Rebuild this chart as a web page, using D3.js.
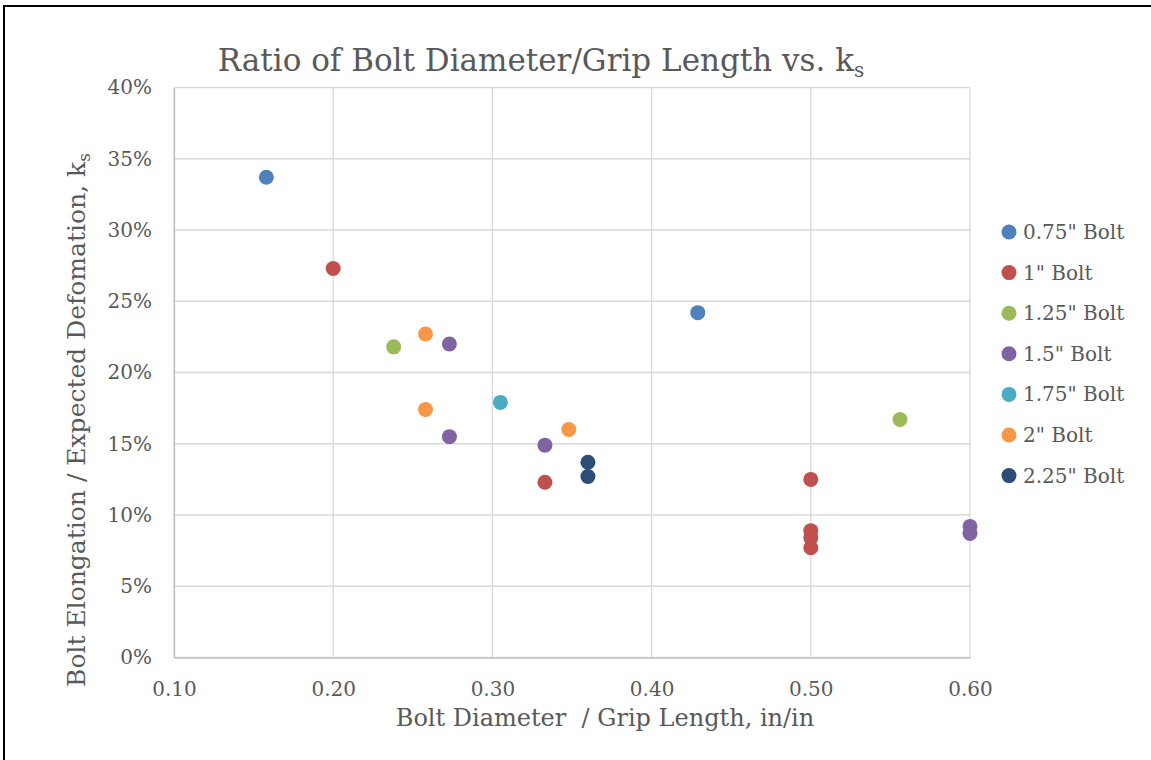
<!DOCTYPE html>
<html>
<head>
<meta charset="utf-8">
<script src="https://cdn.jsdelivr.net/npm/d3@7/dist/d3.min.js"></script>
<style>
  html, body { margin: 0; padding: 0; background: #fff; }
  svg { display: block; }
  text { font-family: "DejaVu Serif", "Liberation Serif", serif; fill: #595959; white-space: pre; }
</style>
</head>
<body>
<svg id="chart" width="1151" height="760"></svg>
<script>
// Bolt series: diameter/grip ratio (x) and measured elongation ratio k_s (y)
const seriesNames = ['0.75" Bolt', '1" Bolt', '1.25" Bolt', '1.5" Bolt', '1.75" Bolt', '2" Bolt', '2.25" Bolt'];
const seriesColors = ["#4f81bd", "#c0504d", "#9bbb59", "#8064a2", "#4bacc6", "#f79646", "#2c4d75"];

const bolt075X = [0.158, 0.429];
const bolt075Y = [0.337, 0.242];
const bolt100X = [0.200, 0.333, 0.500, 0.500, 0.500, 0.500];
const bolt100Y = [0.273, 0.123, 0.125, 0.089, 0.084, 0.077];
const bolt125X = [0.238, 0.556];
const bolt125Y = [0.218, 0.167];
const bolt150X = [0.273, 0.273, 0.333, 0.600, 0.600];
const bolt150Y = [0.220, 0.155, 0.149, 0.092, 0.087];
const bolt175X = [0.305];
const bolt175Y = [0.179];
const bolt200X = [0.258, 0.258, 0.348];
const bolt200Y = [0.227, 0.174, 0.160];
const bolt225X = [0.360, 0.360];
const bolt225Y = [0.137, 0.127];

const xTicks = [0.10, 0.20, 0.30, 0.40, 0.50, 0.60];
const yTicks = [0, 0.05, 0.10, 0.15, 0.20, 0.25, 0.30, 0.35, 0.40];

const seriesX = [bolt075X, bolt100X, bolt125X, bolt150X, bolt175X, bolt200X, bolt225X];
const seriesY = [bolt075Y, bolt100Y, bolt125Y, bolt150Y, bolt175Y, bolt200Y, bolt225Y];

const svg = d3.select("#chart");

// outer chart frame
svg.append("rect")
  .attr("x", 4).attr("y", 6)
  .attr("width", 1200).attr("height", 800)
  .attr("fill", "none").attr("stroke", "#000").attr("stroke-width", 2);

const plot = { left: 174, right: 970, top: 87.5, bottom: 657.5 };

const x = d3.scaleLinear().domain([0.10, 0.60]).range([plot.left, plot.right]);
const y = d3.scaleLinear().domain([0, 0.40]).range([plot.bottom, plot.top]);

// gridlines
const grid = svg.append("g");
grid.selectAll("line.v").data(xTicks).join("line")
  .attr("x1", d => x(d)).attr("x2", d => x(d))
  .attr("y1", plot.top).attr("y2", plot.bottom)
  .attr("stroke", "#d9d9d9").attr("stroke-width", 1.3);
grid.selectAll("line.h").data(yTicks).join("line")
  .attr("x1", plot.left).attr("x2", plot.right)
  .attr("y1", d => y(d)).attr("y2", d => y(d))
  .attr("stroke", "#d9d9d9").attr("stroke-width", 1.3);

// axes
const xAxis = svg.append("g")
  .attr("transform", `translate(0,${plot.bottom})`)
  .call(d3.axisBottom(x).tickValues(xTicks).tickFormat(d3.format(".2f")).tickSize(0).tickPadding(24));
xAxis.select(".domain").attr("stroke", "#bfbfbf").attr("stroke-width", 1.3);
xAxis.selectAll("text").style("font-size", "20px").attr("fill", "#595959");

const yAxis = svg.append("g")
  .attr("transform", `translate(${plot.left},0)`)
  .call(d3.axisLeft(y).tickValues(yTicks).tickFormat(d3.format(".0%")).tickSize(0).tickPadding(22));
yAxis.select(".domain").attr("stroke", "#bfbfbf").attr("stroke-width", 1.3);
yAxis.selectAll("text").style("font-size", "20px").attr("fill", "#595959");

// points
const points = [];
seriesX.forEach((xs, i) => xs.forEach((xv, j) => points.push({ s: i, x: xv, y: seriesY[i][j] })));
svg.append("g").selectAll("circle").data(points).join("circle")
  .attr("cx", d => x(d.x)).attr("cy", d => y(d.y))
  .attr("r", 7.5)
  .attr("fill", d => seriesColors[d.s]);

// title
const title = svg.append("text")
  .attr("x", 541).attr("y", 71)
  .attr("text-anchor", "middle")
  .style("font-size", "31px");
title.append("tspan").text("Ratio of Bolt Diameter/Grip Length vs. k");
title.append("tspan").attr("baseline-shift", "-30%").style("font-size", "20px").text("s");

// axis titles
svg.append("text")
  .attr("x", 605).attr("y", 726)
  .attr("text-anchor", "middle")
  .style("font-size", "24px")
  .text("Bolt Diameter  / Grip Length, in/in");

const yTitle = svg.append("text")
  .attr("transform", "translate(85,420) rotate(-90)")
  .attr("text-anchor", "middle")
  .style("font-size", "25px");
yTitle.append("tspan").text("Bolt Elongation / Expected Defomation, k");
yTitle.append("tspan").attr("baseline-shift", "-30%").style("font-size", "17px").text("s");

// legend
const legend = svg.append("g").selectAll("g").data(seriesNames).join("g")
  .attr("transform", (d, i) => `translate(1009,${232 + i * 40.6})`);
legend.append("circle").attr("r", 7.5).attr("fill", (d, i) => seriesColors[i]);
legend.append("text").attr("x", 14).attr("y", 7)
  .style("font-size", "20px").text(d => d);
</script>
</body>
</html>
